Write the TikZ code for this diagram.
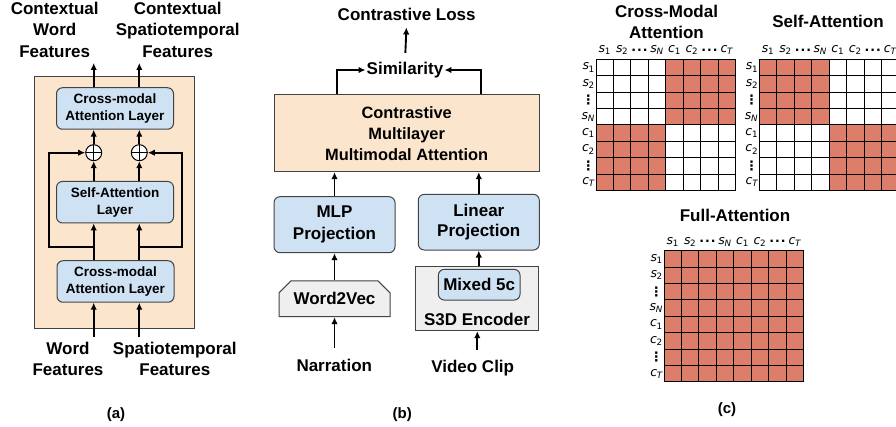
\documentclass[tikz,border=0pt]{standalone}
\usepackage{fontspec}
\setmainfont{Liberation Sans}
\newfontfamily\lblfont{DejaVu Sans}
\usetikzlibrary{arrows.meta,shapes.misc,calc}
\definecolor{bluef}{RGB}{207,226,243}
\definecolor{peach}{RGB}{252,229,205}
\definecolor{grayf}{RGB}{239,239,239}
\definecolor{redc}{RGB}{221,126,107}
\definecolor{edgec}{RGB}{67,67,67}
\newcommand\lb[2]{{\itshape #1}\kern-0.3pt\textsubscript{#2}}
\newcommand\hdt{\textbf{.\kern1pt.\kern1pt.}}
\newcommand\vdt{{\bfseries\fontsize{13}{13}\selectfont ⋮}}
\newcommand\attgrid[3]{%
  \foreach \r in {0,...,7}{\foreach \c in {0,...,7}{%
    \pgfmathtruncatemacro\same{(\r<4)==(\c<4)}%
    \pgfmathtruncatemacro\isred{#3==2 ? 1 : (#3==1 ? \same : 1-\same)}%
    \ifnum\isred=1 \def\fc{redc}\else\def\fc{white}\fi
    \draw[fill=\fc, line width=1pt] (#1+\c*17.45, #2+\r*16.4) rectangle ++(17.45,16.4);
  }}%
  \foreach \t [count=\i from 0] in {\lb{s}{1},\lb{s}{2},\hdt,\lb{s}{\itshape N},\lb{c}{1},\lb{c}{2},\hdt,\lb{c}{\itshape T}}{%
    \node[lbl] at (#1+\i*17.45+8.7, #2-9) {\t};
  }%
  \foreach \t [count=\i from 0] in {\lb{s}{1},\lb{s}{2},\vdt,\lb{s}{\itshape N},\lb{c}{1},\lb{c}{2},\vdt,\lb{c}{\itshape T}}{%
    \node[lbl, anchor=east] at (#1-1, #2+\i*16.4+8.2) {\t};
  }%
}
\begin{document}
\begin{tikzpicture}[x=1pt,y=-1pt,
  lbl/.style={font=\lblfont\fontsize{12.5}{12.5}\selectfont, inner sep=0pt},
  txt/.style={font=\fontsize{17}{21.3}\selectfont\bfseries, align=center, inner sep=1pt},
  arr/.style={line width=1.9pt, -{Latex[length=7pt,width=6.5pt]}},
  bbox/.style={draw=edgec, line width=1pt, fill=bluef, rounded corners=6pt, align=center},
  smalltxt/.style={font=\fontsize{13.5}{16.7}\selectfont\bfseries},
  plusc/.style={circle, draw=black, line width=1pt, fill=white, minimum size=16pt, inner sep=0pt,
    path picture={\draw[line width=0.8pt] (path picture bounding box.north) -- (path picture bounding box.south)
      (path picture bounding box.west) -- (path picture bounding box.east);}}
]
\useasboundingbox (0,0) rectangle (896,427);
\clip (0,0) rectangle (896,427);

% ---------------- panel (a)
\node[draw=edgec, line width=1pt, fill=peach, minimum width=159.6pt, minimum height=252.3pt, inner sep=0pt] (boxA) at (114.5,202.2) {};
\node[bbox, smalltxt, minimum width=117pt, minimum height=41.5pt, inner sep=0pt] (caT) at (115,108.5) {Cross-modal\\Attention Layer};
\node[bbox, smalltxt, minimum width=117pt, minimum height=41.5pt, inner sep=0pt] (sa) at (115,202.2) {Self-Attention\\Layer};
\node[bbox, smalltxt, minimum width=117pt, minimum height=41.5pt, inner sep=0pt] (caB) at (115.5,281.5) {Cross-modal\\Attention Layer};
\node[plusc] (pL) at (93.7,152.7) {};
\node[plusc] (pR) at (139.3,152.7) {};
\node[txt] (ctxW) at (54.7,29.8) {Contextual\\Word\\Features};
\node[txt] (ctxS) at (177.7,29.8) {Contextual\\Spatiotemporal\\Features};
\node[txt] (wordF) at (68,359) {Word\\Features};
\node[txt] (spatF) at (174.8,359) {Spatiotemporal\\Features};
\node[txt, font=\fontsize{15}{18}\selectfont\bfseries] (la) at (116,415) {(a)};
\coordinate (oL) at (93.7,63);
\coordinate (oR) at (139.3,63);
\coordinate (iL) at (93.7,336.7);
\coordinate (iR) at (139.3,336.7);
\coordinate (bL) at (93.7,247.3);
\coordinate (bR) at (139.3,247.3);
\coordinate (sideL) at (49,247.3);
\coordinate (sideR) at (182.3,247.3);
\draw[arr] (caT.north -| oL) -- (oL);
\draw[arr] (caT.north -| oR) -- (oR);
\draw[arr] (pL) -- (caT.south -| pL);
\draw[arr] (pR) -- (caT.south -| pR);
\draw[arr] (sa.north -| pL) -- (pL);
\draw[arr] (sa.north -| pR) -- (pR);
\draw[arr] (caB.north -| pL) -- (sa.south -| pL);
\draw[arr] (caB.north -| pR) -- (sa.south -| pR);
\draw[arr] (bL) -- (sideL) |- (pL);
\draw[arr] (bR) -- (sideR) |- (pR);
\draw[arr] (iL) -- (caB.south -| iL);
\draw[arr] (iR) -- (caB.south -| iR);

% ---------------- panel (b)
\node[draw=edgec, line width=1pt, fill=peach, minimum width=265.3pt, minimum height=76.7pt, align=center,
  font=\fontsize{16.4}{21}\selectfont\bfseries] (big) at (406.7,133.3) {Contrastive\\Multilayer\\Multimodal Attention};
\node[bbox, font=\fontsize{17}{21.6}\selectfont\bfseries, minimum width=121pt, minimum height=56pt, inner sep=0pt] (mlp) at (334.5,224.7) {MLP\\Projection};
\node[bbox, font=\fontsize{17}{20.4}\selectfont\bfseries, minimum width=121pt, minimum height=55.7pt, inner sep=0pt] (lin) at (478.8,222.2) {Linear\\Projection};
\node[chamfered rectangle, chamfered rectangle corners={north east,north west}, chamfered rectangle xsep=6pt, chamfered rectangle ysep=6pt,
  draw=edgec, line width=1pt, fill=grayf, minimum width=111pt, minimum height=35.7pt, inner sep=0pt,
  font=\fontsize{17}{20}\selectfont\bfseries] (w2v) at (334.5,298.8) {Word2Vec};
\node[draw=edgec, line width=1pt, fill=grayf, minimum width=122.6pt, minimum height=64pt, inner sep=0pt] (s3d) at (477,298.7) {};
\node[bbox, font=\fontsize{17}{20}\selectfont\bfseries, minimum width=81.7pt, minimum height=30.7pt, inner sep=0pt] (mix) at (479.2,284.7) {Mixed 5c};
\node[txt] (s3dl) at (477,319.5) {S3D Encoder};
\node[txt] (simi) at (405,70) {Similarity};
\node[txt] (cl) at (406.7,14) {Contrastive Loss};
\node[txt] (narr) at (334.3,365) {Narration};
\node[txt] (vc) at (472.7,368.3) {Video Clip};
\node[txt, font=\fontsize{15}{18}\selectfont\bfseries] (lbb) at (402.3,415) {(b)};
\coordinate (sL) at (336.7,0);
\coordinate (sR) at (480.7,0);
\coordinate (nS) at (334.5,348.3);
\coordinate (vS) at (477.3,350);
\draw[arr] (big.north -| sL) |- (simi.west);
\draw[arr] (big.north -| sR) |- (simi.east);
\draw[arr, shorten <=8pt, shorten >=6pt] (simi.north) -- (cl.south);
\draw[arr] (mlp.north) -- (big.south -| mlp.north);
\draw[arr] (lin.north) -- (big.south -| lin.north);
\draw[arr] (w2v.north) -- (mlp.south);
\draw[arr] (lin.south |- s3d.north) -- (lin.south);
\draw[arr] (nS) -- (w2v.south);
\draw[arr] (vS) -- (s3d.south -| vS);

% ---------------- panel (c)
\node[txt] (tcm) at (666.5,22) {Cross-Modal\\Attention};
\node[txt] (tsa) at (828,21) {Self-Attention};
\node[txt] (tfa) at (735,215) {Full-Attention};
\node[txt, font=\fontsize{15}{18}\selectfont\bfseries] (lc) at (727,410) {(c)};
\attgrid{596}{59.3}{0}
\attgrid{759.3}{59.3}{1}
\attgrid{664}{250.7}{2}
\end{tikzpicture}
\end{document}
